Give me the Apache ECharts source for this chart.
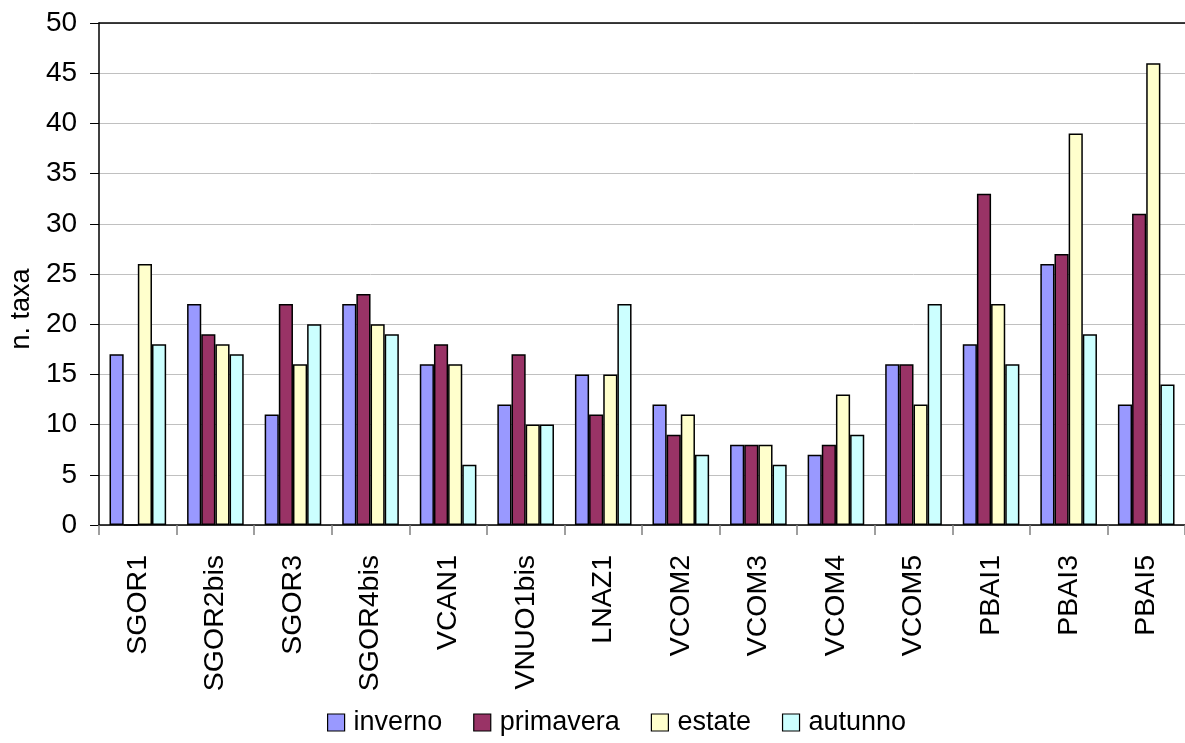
<!DOCTYPE html>
<html>
<head>
<meta charset="utf-8">
<script src="https://cdn.jsdelivr.net/npm/echarts@6/dist/echarts.min.js"></script>
<style>
  html, body { margin: 0; padding: 0; background: #fff; }
  #chart { width: 1185px; height: 743px; }
</style>
</head>
<body>
<div id="chart"></div>
<script>
// Sampling stations
const stations = ['SGOR1', 'SGOR2bis', 'SGOR3', 'SGOR4bis', 'VCAN1', 'VNUO1bis', 'LNAZ1',
  'VCOM2', 'VCOM3', 'VCOM4', 'VCOM5', 'PBAI1', 'PBAI3', 'PBAI5'];

// Number of taxa per season
const inverno   = [17, 22, 11, 22, 16, 12, 15, 12, 8, 7, 16, 18, 26, 12];
const primavera = [0, 19, 22, 23, 18, 17, 11, 9, 8, 8, 16, 33, 27, 31];
const estate    = [26, 18, 16, 20, 16, 10, 15, 11, 8, 13, 12, 22, 39, 46];
const autunno   = [18, 17, 20, 19, 6, 10, 22, 7, 6, 9, 22, 16, 19, 14];

const seasonNames = ['inverno', 'primavera', 'estate', 'autunno'];
const seasonColors = ['#9999FF', '#993366', '#FFFFCC', '#CCFFFF'];
const seasonData = [inverno, primavera, estate, autunno];

const font = '"Liberation Sans", Arial, sans-serif';

const chart = echarts.init(document.getElementById('chart'), null, { renderer: 'canvas' });

chart.setOption({
  animation: false,
  backgroundColor: '#ffffff',
  textStyle: { fontFamily: font, color: '#000' },
  grid: { left: 97, top: 23, width: 1099, height: 502, containLabel: false },
  legend: {
    data: seasonNames,
    top: 709,
    left: 327,
    padding: 0,
    itemWidth: 17,
    itemHeight: 17,
    itemGap: 31,
    icon: 'rect',
    textStyle: { fontFamily: font, fontSize: 27, color: '#000', padding: [0, 0, 0, 4] },
    itemStyle: { borderColor: '#000', borderWidth: 1.2 }
  },
  xAxis: [
    {
      type: 'category',
      data: stations,
      axisLine: { show: true, lineStyle: { color: '#000', width: 1.5 } },
      axisTick: { show: true, length: 10, lineStyle: { color: '#808080', width: 1.5 } },
      axisLabel: {
        rotate: 90, margin: 30, fontSize: 28.5, color: '#000', fontFamily: font,
        interval: 0
      },
      splitLine: { show: false }
    },
    {
      // closing line along the top edge of the plot
      type: 'category',
      position: 'top',
      data: stations,
      axisLine: { show: true, lineStyle: { color: '#000', width: 1.5 } },
      axisTick: { show: false },
      axisLabel: { show: false },
      splitLine: { show: false }
    }
  ],
  yAxis: {
    type: 'value',
    min: 0,
    max: 50,
    interval: 5,
    name: 'n. taxa',
    nameLocation: 'middle',
    nameGap: 56,
    nameRotate: 90,
    nameTextStyle: { fontSize: 27, color: '#000', fontFamily: font, padding: [0, 70, 0, 0] },
    axisLine: { show: true, lineStyle: { color: '#000', width: 1.5 } },
    axisTick: { show: true, length: 9, inside: false, lineStyle: { color: '#000', width: 1 } },
    axisLabel: { fontSize: 28, color: '#000', margin: 22, fontFamily: font },
    splitLine: { show: true, lineStyle: { color: '#c0c0c0', width: 1 } }
  },
  series: seasonNames.map((name, i) => ({
    name: name,
    type: 'bar',
    xAxisIndex: 0,
    data: seasonData[i],
    barGap: '0%',
    barCategoryGap: '27%',
    itemStyle: { color: seasonColors[i], borderColor: '#000', borderWidth: 1.5 }
  }))
});
</script>
</body>
</html>
